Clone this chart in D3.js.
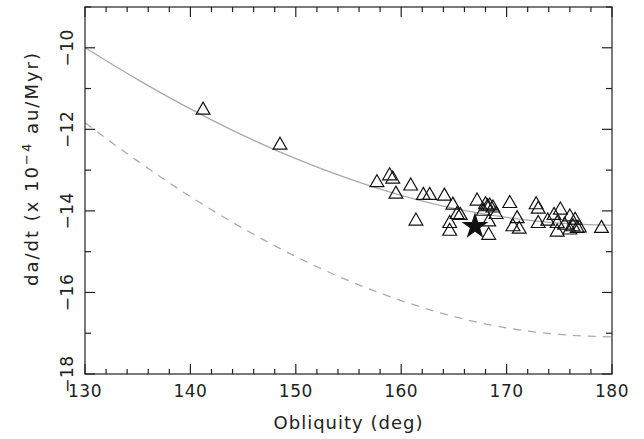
<!DOCTYPE html>
<html>
<head>
<meta charset="utf-8">
<script src="https://cdn.jsdelivr.net/npm/d3@7"></script>
<style>
  body { margin: 0; background: #fff; }
  text { font-family: "DejaVu Sans", sans-serif; fill: #222; }
</style>
</head>
<body>
<div id="chart"></div>
<script>
// model curves (obliquity deg, da/dt)
const curveObl = [130, 135, 140, 145, 150, 155, 160, 165, 170, 175, 180];
const solidCurve = [-10.0, -10.78, -11.50, -12.15, -12.72, -13.21, -13.62, -13.94, -14.16, -14.30, -14.35];
const dashedCurve = [-11.84, -12.78, -13.65, -14.43, -15.12, -15.71, -16.20, -16.59, -16.87, -17.03, -17.09];

// clones (open triangles)
const cloneObl = [141.2, 148.5, 157.7, 158.9, 159.2, 159.5, 160.9, 162.1, 162.7, 164.1, 164.9,
  161.4, 165.3, 165.6, 164.6, 164.6, 167.2, 168.0, 168.2, 168.4, 168.7, 167.8, 169.0, 168.3, 168.3,
  170.3, 171.0, 170.6, 171.2, 172.8, 173.0, 173.0, 173.9, 174.5, 175.1, 174.8, 174.8, 175.5, 176.0,
  176.5, 176.3, 176.7, 176.9, 176.0, 179.0];
const cloneRate = [-11.48, -12.34, -13.26, -13.09, -13.17, -13.54, -13.34, -13.57, -13.57, -13.59, -13.81,
  -14.20, -14.04, -14.06, -14.26, -14.45, -13.71, -13.80, -13.85, -13.83, -13.88, -13.96, -14.04, -14.22, -14.55,
  -13.77, -14.14, -14.34, -14.40, -13.80, -13.91, -14.26, -14.20, -14.06, -13.93, -14.26, -14.47, -14.30, -14.10,
  -14.18, -14.34, -14.38, -14.37, -14.42, -14.38];

// nominal solution (star)
const nominalObl = [167.0];
const nominalRate = [-14.38];

const xTicks = [130, 140, 150, 160, 170, 180];
const yTicks = [-18, -16, -14, -12, -10];

const width = 644, height = 439;
const margin = {top: 7, right: 32, bottom: 65, left: 85};

const svg = d3.select("#chart").append("svg")
  .attr("width", width).attr("height", height);

const x = d3.scaleLinear().domain([130, 180]).range([margin.left, width - margin.right]);
const y = d3.scaleLinear().domain([-18, -9]).range([height - margin.bottom, margin.top]);

const line = d3.line().x(d => x(d[0])).y(d => y(d[1])).curve(d3.curveMonotoneX);

svg.append("path")
  .datum(d3.zip(curveObl, dashedCurve))
  .attr("d", line)
  .attr("fill", "none")
  .attr("stroke", "#aaa")
  .attr("stroke-width", 1.3)
  .attr("stroke-dasharray", "8,7");

svg.append("path")
  .datum(d3.zip(curveObl, solidCurve))
  .attr("d", line)
  .attr("fill", "none")
  .attr("stroke", "#aaa")
  .attr("stroke-width", 1.3);

// triangle whose vertical middle sits on the point
const triangle = {
  draw(ctx, size) {
    const h = Math.sqrt(size);
    const w = h * 1.15;
    ctx.moveTo(0, -h / 2);
    ctx.lineTo(w / 2, h / 2);
    ctx.lineTo(-w / 2, h / 2);
    ctx.closePath();
  }
};

svg.append("g").selectAll("path")
  .data(d3.zip(cloneObl, cloneRate))
  .join("path")
  .attr("transform", d => `translate(${x(d[0])},${y(d[1])})`)
  .attr("d", d3.symbol(triangle, 144))
  .attr("fill", "none")
  .attr("stroke", "#111")
  .attr("stroke-width", 1.2);

svg.append("g").selectAll("path")
  .data(d3.zip(nominalObl, nominalRate))
  .join("path")
  .attr("transform", d => `translate(${x(d[0])},${y(d[1])})`)
  .attr("d", d3.symbol(d3.symbolStar, 225))
  .attr("fill", "#111");

// frame and ticks
const axes = svg.append("g");
const x0 = x.range()[0], x1 = x.range()[1], y0 = y.range()[0], y1 = y.range()[1];

const xMinor = d3.range(130, 181, 2).filter(v => v % 10 !== 0);
const yMinor = d3.range(-17, -8, 2);

function vTicks(vals, len) {
  vals.forEach(v => {
    axes.append("line").attr("x1", x(v)).attr("x2", x(v)).attr("y1", y0).attr("y2", y0 - len);
    axes.append("line").attr("x1", x(v)).attr("x2", x(v)).attr("y1", y1).attr("y2", y1 + len);
  });
}
function hTicks(vals, len) {
  vals.forEach(v => {
    axes.append("line").attr("y1", y(v)).attr("y2", y(v)).attr("x1", x0).attr("x2", x0 + len);
    axes.append("line").attr("y1", y(v)).attr("y2", y(v)).attr("x1", x1).attr("x2", x1 - len);
  });
}
vTicks(xTicks, 10);
vTicks(xMinor, 5);
hTicks(yTicks, 10);
hTicks(yMinor, 6);

axes.append("rect")
  .attr("x", x0).attr("y", y1).attr("width", x1 - x0).attr("height", y0 - y1)
  .attr("fill", "none");

axes.selectAll("line, rect").attr("stroke", "#222").attr("stroke-width", 1.2);

svg.append("g").selectAll("text")
  .data(xTicks)
  .join("text")
  .attr("x", d => x(d))
  .attr("y", 397)
  .attr("text-anchor", "middle")
  .attr("font-size", 17)
  .attr("letter-spacing", 0.5)
  .text(d => d);

svg.append("g").selectAll("text")
  .data(yTicks)
  .join("text")
  .attr("transform", d => `translate(73,${y(d)}) rotate(-90)`)
  .attr("text-anchor", "middle")
  .attr("font-size", 17)
  .attr("letter-spacing", 0.5)
  .text(d => "\u2212" + Math.abs(d));

svg.append("text")
  .attr("x", (x0 + x1) / 2)
  .attr("y", 429)
  .attr("text-anchor", "middle")
  .attr("font-size", 18)
  .attr("letter-spacing", 1)
  .text("Obliquity (deg)");

const yl = svg.append("text")
  .attr("transform", `translate(38,${(y0 + y1) / 2 - 22}) rotate(-90)`)
  .attr("text-anchor", "middle")
  .attr("font-size", 18)
  .attr("letter-spacing", 2);
yl.append("tspan").text("da/dt (x 10");
yl.append("tspan").attr("dy", -7).attr("font-size", 13).text("\u22124");
yl.append("tspan").attr("dy", 7).text(" au/Myr)");
</script>
</body>
</html>
